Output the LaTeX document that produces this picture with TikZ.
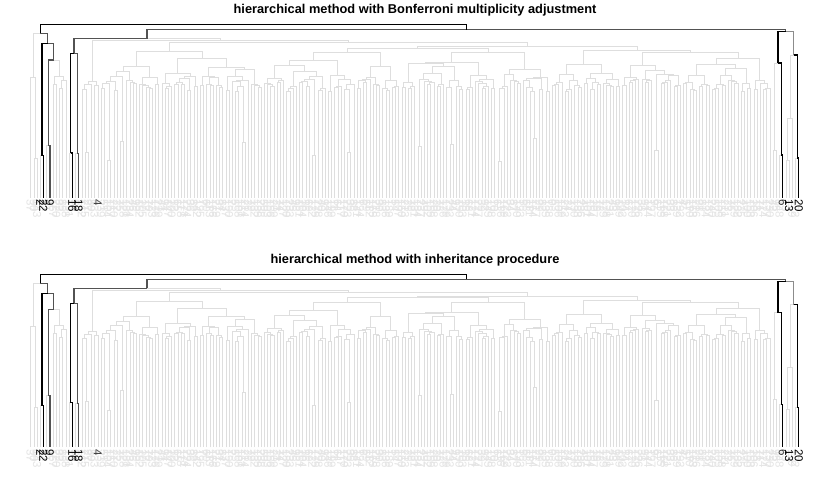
\documentclass[tikz,border=0pt]{standalone}
\usepackage{fontspec}
\setmainfont{Liberation Sans}
\usetikzlibrary{calc}
\tikzset{
  gl/.style={draw=black!13, line width=0.8pt},
  md/.style={draw=black!45, line width=1.1pt},
  dk/.style={draw=black!68, line width=1.2pt},
  bk/.style={draw=black, line width=1.2pt},
  lab/.style={rotate=-90, anchor=west, inner sep=0pt, font=\fontsize{11.5}{12}\selectfont},
  ttl/.style={font=\bfseries\fontsize{12.8}{14}\selectfont, inner sep=0pt},
}
% recursive gray dendrogram over leaves #1..#2 ; result node in \dtX,\dtY
\newcommand\dtree[2]{%
  \begingroup
  \edef\dtA{#1}\edef\dtB{#2}%
  \ifnum\dtA=\dtB\relax
    \pgfmathsetmacro\dtT{30.7+3.2*\dtA}%
    \xdef\dtX{\dtT}\xdef\dtY{197.5}%
  \else
    \pgfmathtruncatemacro\dtN{\dtB-\dtA+1}%
    \pgfmathsetmacro\dtR{0.2+0.6*rnd}%
    \pgfmathtruncatemacro\dtK{max(1,min(\dtN-1,round(\dtN*\dtR)))}%
    \pgfmathtruncatemacro\dtM{\dtA+\dtK-1}%
    \pgfmathtruncatemacro\dtQ{\dtM+1}%
    \dtree{\dtA}{\dtM}%
    \let\dtXa\dtX \let\dtYa\dtY
    \dtree{\dtQ}{\dtB}%
    \let\dtXb\dtX \let\dtYb\dtY
    \ifnum\dtN=2\relax
      \pgfmathsetmacro\dtH{rnd<0.2 ? 138+24*rnd : 82+10*rnd}%
    \else
      \pgfmathsetmacro\dtH{max(48,104-13*ln(\dtN)+6*rnd-3)}%
    \fi
    \pgfmathsetmacro\dtH{min(\dtH,min(\dtYa,\dtYb)-1.5)}%
    \draw[gl] (\dtXa,\dtYa) -- (\dtXa,\dtH) -- (\dtXb,\dtH) -- (\dtXb,\dtYb);
    \pgfmathsetmacro\dtT{(\dtXa+\dtXb)/2}%
    \xdef\dtX{\dtT}\xdef\dtY{\dtH}%
  \fi
  \endgroup}
\newcommand\dedge[3]{\draw[#1] (#2) -| (#3);}
\newcommand\dpanel[2]{%
  \node[ttl] (#1) at (415,10.5) {#2};
  \pgfmathsetseed{11}%
  \foreach \i in {0,...,240} {\coordinate (L\i) at ({30.7+3.2*\i},197.5);}
  \dtree{16}{21}\let\pBLx\dtX\let\pBLy\dtY
  \dtree{22}{72}\let\pRax\dtX\let\pRay\dtY
  \dtree{73}{231}\let\pRbx\dtX\let\pRby\dtY
  \pgfmathsetmacro\pBRx{(\pRax+\pRbx)/2}%
  \pgfmathsetmacro\pBx{(\pBLx+\pBRx)/2}%
  \pgfmathsetmacro\pRRa{(73.9+\pBx)/2}%
  \pgfmathsetmacro\pRRx{(\pRRa+785.7)/2}%
  \pgfmathsetmacro\pRootx{(40.45+\pRRx)/2}%
  \coordinate (n12) at (35.5,158);
  \coordinate (G0) at (33.1,77);
  \coordinate (Da) at (41.9,155.7);
  \coordinate (Db) at (48.3,145.7);
  \coordinate (n78) at (54.7,84);
  \coordinate (n910) at (61.1,88);
  \coordinate (n911) at (63.5,80);
  \coordinate (Gc) at (59.1,76);
  \coordinate (Dbp) at (53.7,60);
  \coordinate (D1) at (47.8,43.3);
  \coordinate (RL) at (40.45,33.3);
  \coordinate (n1213) at (70.7,153);
  \coordinate (n1415) at (77.1,153.5);
  \coordinate (D16) at (73.9,53.3);
  \coordinate (BL) at (\pBLx,\pBLy);
  \coordinate (Ra) at (\pRax,\pRay);
  \coordinate (Rb) at (\pRbx,\pRby);
  \coordinate (BR) at (\pBRx,42.5);
  \coordinate (BB) at (\pBx,40.5);
  \coordinate (RR1) at (\pRRa,38.5);
  \coordinate (Lg) at (774.7,150);
  \coordinate (Dk) at (781.1,155);
  \coordinate (GG) at (777.9,63);
  \coordinate (AA) at (787.5,160);
  \coordinate (Ap) at (789.9,118);
  \coordinate (Bk) at (797.1,158);
  \coordinate (Rg) at (793.5,55);
  \coordinate (RC) at (785.7,31.7);
  \coordinate (RR) at (\pRRx,29.5);
  \coordinate (Root) at (\pRootx,24.5);
  % light edges
  \dedge{gl}{n12}{L1}\dedge{gl}{n12}{L2}\dedge{gl}{G0}{L0}\dedge{gl}{G0}{n12}\dedge{gl}{RL}{G0}
  \dedge{gl}{Da}{L3}\dedge{gl}{Db}{L5}\dedge{gl}{Dbp}{Gc}\dedge{gl}{Gc}{n78}\dedge{gl}{Gc}{n911}
  \dedge{gl}{n78}{L7}\dedge{gl}{n78}{L8}\dedge{gl}{n911}{n910}\dedge{gl}{n911}{L11}
  \dedge{gl}{n910}{L9}\dedge{gl}{n910}{L10}\dedge{gl}{n1213}{L12}\dedge{gl}{n1415}{L14}
  \dedge{gl}{RR1}{BB}\dedge{gl}{BB}{BL}\dedge{gl}{BB}{BR}\dedge{gl}{BR}{Ra}\dedge{gl}{BR}{Rb}
  \dedge{gl}{Lg}{L232}\dedge{gl}{Lg}{L233}\dedge{gl}{GG}{Lg}\dedge{gl}{Dk}{L234}
  \dedge{gl}{AA}{L236}\dedge{gl}{AA}{L237}\dedge{gl}{Ap}{AA}\dedge{gl}{Ap}{L238}\dedge{gl}{Rg}{Ap}\dedge{gl}{Bk}{L239}
  % gray labels
  \foreach \i in {0,...,240} {%
    \pgfmathtruncatemacro\isb{(\i==3)||(\i==4)||(\i==6)||(\i==13)||(\i==15)||(\i==21)||(\i==235)||(\i==237)||(\i==240)}%
    \ifnum\isb=0
      \pgfmathtruncatemacro\lb{mod(\i*53+37,241)}%
      \node[lab, text=black!10] (#1t\i) at ({30.7+3.2*\i},199) {\lb};
    \fi}
  % darker edges
  \dedge{md}{RC}{Rg}
  \dedge{dk}{RL}{D1}\dedge{dk}{D1}{Dbp}\dedge{dk}{Dbp}{Db}\dedge{dk}{Db}{L6}
  \dedge{dk}{RR}{RR1}\dedge{dk}{RR1}{D16}\dedge{dk}{D16}{n1415}\dedge{dk}{n1415}{L15}\dedge{dk}{RR}{RC}
  \dedge{bk}{Root}{RL}\dedge{bk}{Root}{RR}\dedge{bk}{D1}{Da}\dedge{bk}{Da}{L4}
  \dedge{bk}{D16}{n1213}\dedge{bk}{n1213}{L13}\dedge{bk}{RC}{GG}\dedge{bk}{GG}{Dk}\dedge{bk}{Dk}{L235}
  \dedge{bk}{Rg}{Bk}\dedge{bk}{Bk}{L240}
  % black labels
  \node[lab] (#1b3) at (40.3,199) {2};
  \node[lab] (#1b4) at (43.5,199) {22};
  \node[lab] (#1b6) at (49.9,199) {9};
  \node[lab] (#1b13) at (72.3,199) {16};
  \node[lab] (#1b15) at (78.7,199) {18};
  \node[lab, text=black!75] (#1b21) at (97.9,199) {4};
  \node[lab, text=black!80] (#1b235) at (782.7,199) {6};
  \node[lab] (#1b237) at (789.1,199) {13};
  \node[lab] (#1b240) at (798.7,199) {20};
}
\begin{document}
\begin{tikzpicture}[x=1pt,y=-1pt]
\path[use as bounding box, fill=white] (0,0) rectangle (830,498);
\dpanel{ta}{hierarchical method with Bonferroni multiplicity adjustment}
\begin{scope}[yshift=-249.8pt]
\dpanel{tb}{hierarchical method with inheritance procedure}
\end{scope}
\end{tikzpicture}
\end{document}
